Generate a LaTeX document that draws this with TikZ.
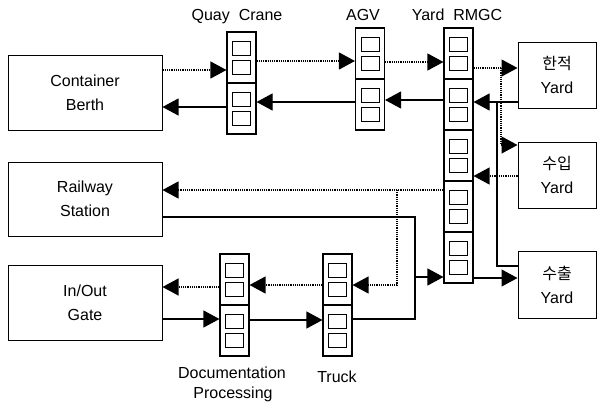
\documentclass[tikz,border=0pt]{standalone}
\usepackage{fontspec}
\setmainfont{Liberation Sans}
\newfontfamily\krfont{Noto Sans CJK KR}
\usetikzlibrary{arrows.meta}
\begin{document}
\begin{tikzpicture}[x=1pt,y=-1pt,
  every node/.style={font=\fontsize{16}{24}\selectfont},
  bigbox/.style={draw, line width=1pt, inner sep=0pt, align=center},
  sec/.style={draw, line width=1.1pt, minimum width=29pt, minimum height=51pt, inner sep=0pt,
    path picture={
      \draw[line width=1pt] ([shift={(-9pt,-16.5pt)}]path picture bounding box.center) rectangle ++(18pt,14pt);
      \draw[line width=1pt] ([shift={(-9pt,2.5pt)}]path picture bounding box.center) rectangle ++(18pt,14pt);
    }},
  sol/.style={line width=1.1pt},
  dotl/.style={line width=1.2pt, dash pattern=on 1.2pt off 1pt},
  tip/.style={-{Triangle[length=16pt,width=17pt]}},
  lbl/.style={anchor=base, inner sep=0pt}
]
\useasboundingbox (0,0) rectangle (599,402);

% big boxes
\node[bigbox, minimum width=154pt, minimum height=75pt] (berth) at (85,92.5) {Container\\Berth};
\node[bigbox, minimum width=154pt, minimum height=74pt] (rail) at (85,199) {Railway\\Station};
\node[bigbox, minimum width=154pt, minimum height=75pt] (gate) at (85,302.5) {In/Out\\Gate};
\node[bigbox, minimum width=78pt, minimum height=66pt] (y1) at (557,75) {{\krfont 한적}\\Yard};
\node[bigbox, minimum width=78pt, minimum height=66pt] (y2) at (557,175) {{\krfont 수입}\\Yard};
\node[bigbox, minimum width=78pt, minimum height=67pt] (y3) at (557,284.5) {{\krfont 수출}\\Yard};

% equipment columns
\node[sec] (q1) at (241.5,57.5) {};
\node[sec] (q2) at (241.5,108.5) {};
\node[sec] (a1) at (370,53.5) {};
\node[sec] (a2) at (370,104.5) {};
\node[sec] (r1) at (458.5,53.5) {};
\node[sec] (r2) at (458.5,104.5) {};
\node[sec] (r3) at (458.5,155.5) {};
\node[sec] (r4) at (458.5,206.5) {};
\node[sec] (r5) at (458.5,257.5) {};
\node[sec] (d1) at (234.5,279.5) {};
\node[sec] (d2) at (234.5,330.5) {};
\node[sec] (t1) at (337.5,279.5) {};
\node[sec] (t2) at (337.5,330.5) {};

% labels
\node[lbl] (lq) at (237,20) {Quay\ \ Crane};
\node[lbl] (la) at (363,20) {AGV};
\node[lbl] (lr) at (457,20) {Yard\ \ RMGC};
\node[lbl] (ld1) at (232,378) {Documentation};
\node[lbl] (ld2) at (233,398) {Processing};
\node[lbl] (lt) at (337,382) {Truck};

% junction coordinates
\coordinate (j1) at (501,68);
\coordinate (j2) at (497,102);
\coordinate (j3) at (397,190);
\coordinate (j4) at (415,277);

% connectors
\draw[dotl,tip] (berth.east |- 0,70) -- (q1.west |- 0,70);
\draw[sol,tip] (q2.west |- 0,107) -- (berth.east |- 0,107);
\draw[dotl,tip] (q1.east |- 0,61) -- (a1.west |- 0,61);
\draw[sol,tip] (a2.west |- 0,102) -- (q2.east |- 0,102);
\draw[dotl,tip] (a1.east |- 0,62) -- (r1.west |- 0,62);
\draw[sol,tip] (r2.west |- 0,100) -- (a2.east |- 0,100);

\draw[dotl,tip] (r1.east |- 0,68) -- (y1.west |- 0,68);
\draw[dotl,tip] (j1) -- (j1 |- 0,145) -- (y2.west |- 0,145);
\draw[sol,tip] (y1.west |- 0,102) -- (r2.east |- 0,102);
\draw[sol] (y3.west |- 0,266) -| (j2);
\draw[dotl,tip] (y2.west |- 0,176) -- (r3.east |- 0,176);

\draw[dotl,tip] (r4.west |- 0,190) -- (rail.east |- 0,190);
\draw[dotl,tip] (j3) -- (j3 |- 0,285) -- (t1.east |- 0,285);
\draw[sol,tip] (rail.east |- 0,217) -| (j4) -- (r5.west |- 0,277);
\draw[sol] (t2.east |- 0,319) -| (j4);
\draw[sol,tip] (r5.east |- 0,278) -- (y3.west |- 0,278);

\draw[dotl,tip] (t1.west |- 0,285) -- (d1.east |- 0,285);
\draw[dotl,tip] (d1.west |- 0,287) -- (gate.east |- 0,287);
\draw[sol,tip] (gate.east |- 0,319) -- (d2.west |- 0,319);
\draw[sol,tip] (d2.east |- 0,320) -- (t2.west |- 0,320);
\end{tikzpicture}
\end{document}
